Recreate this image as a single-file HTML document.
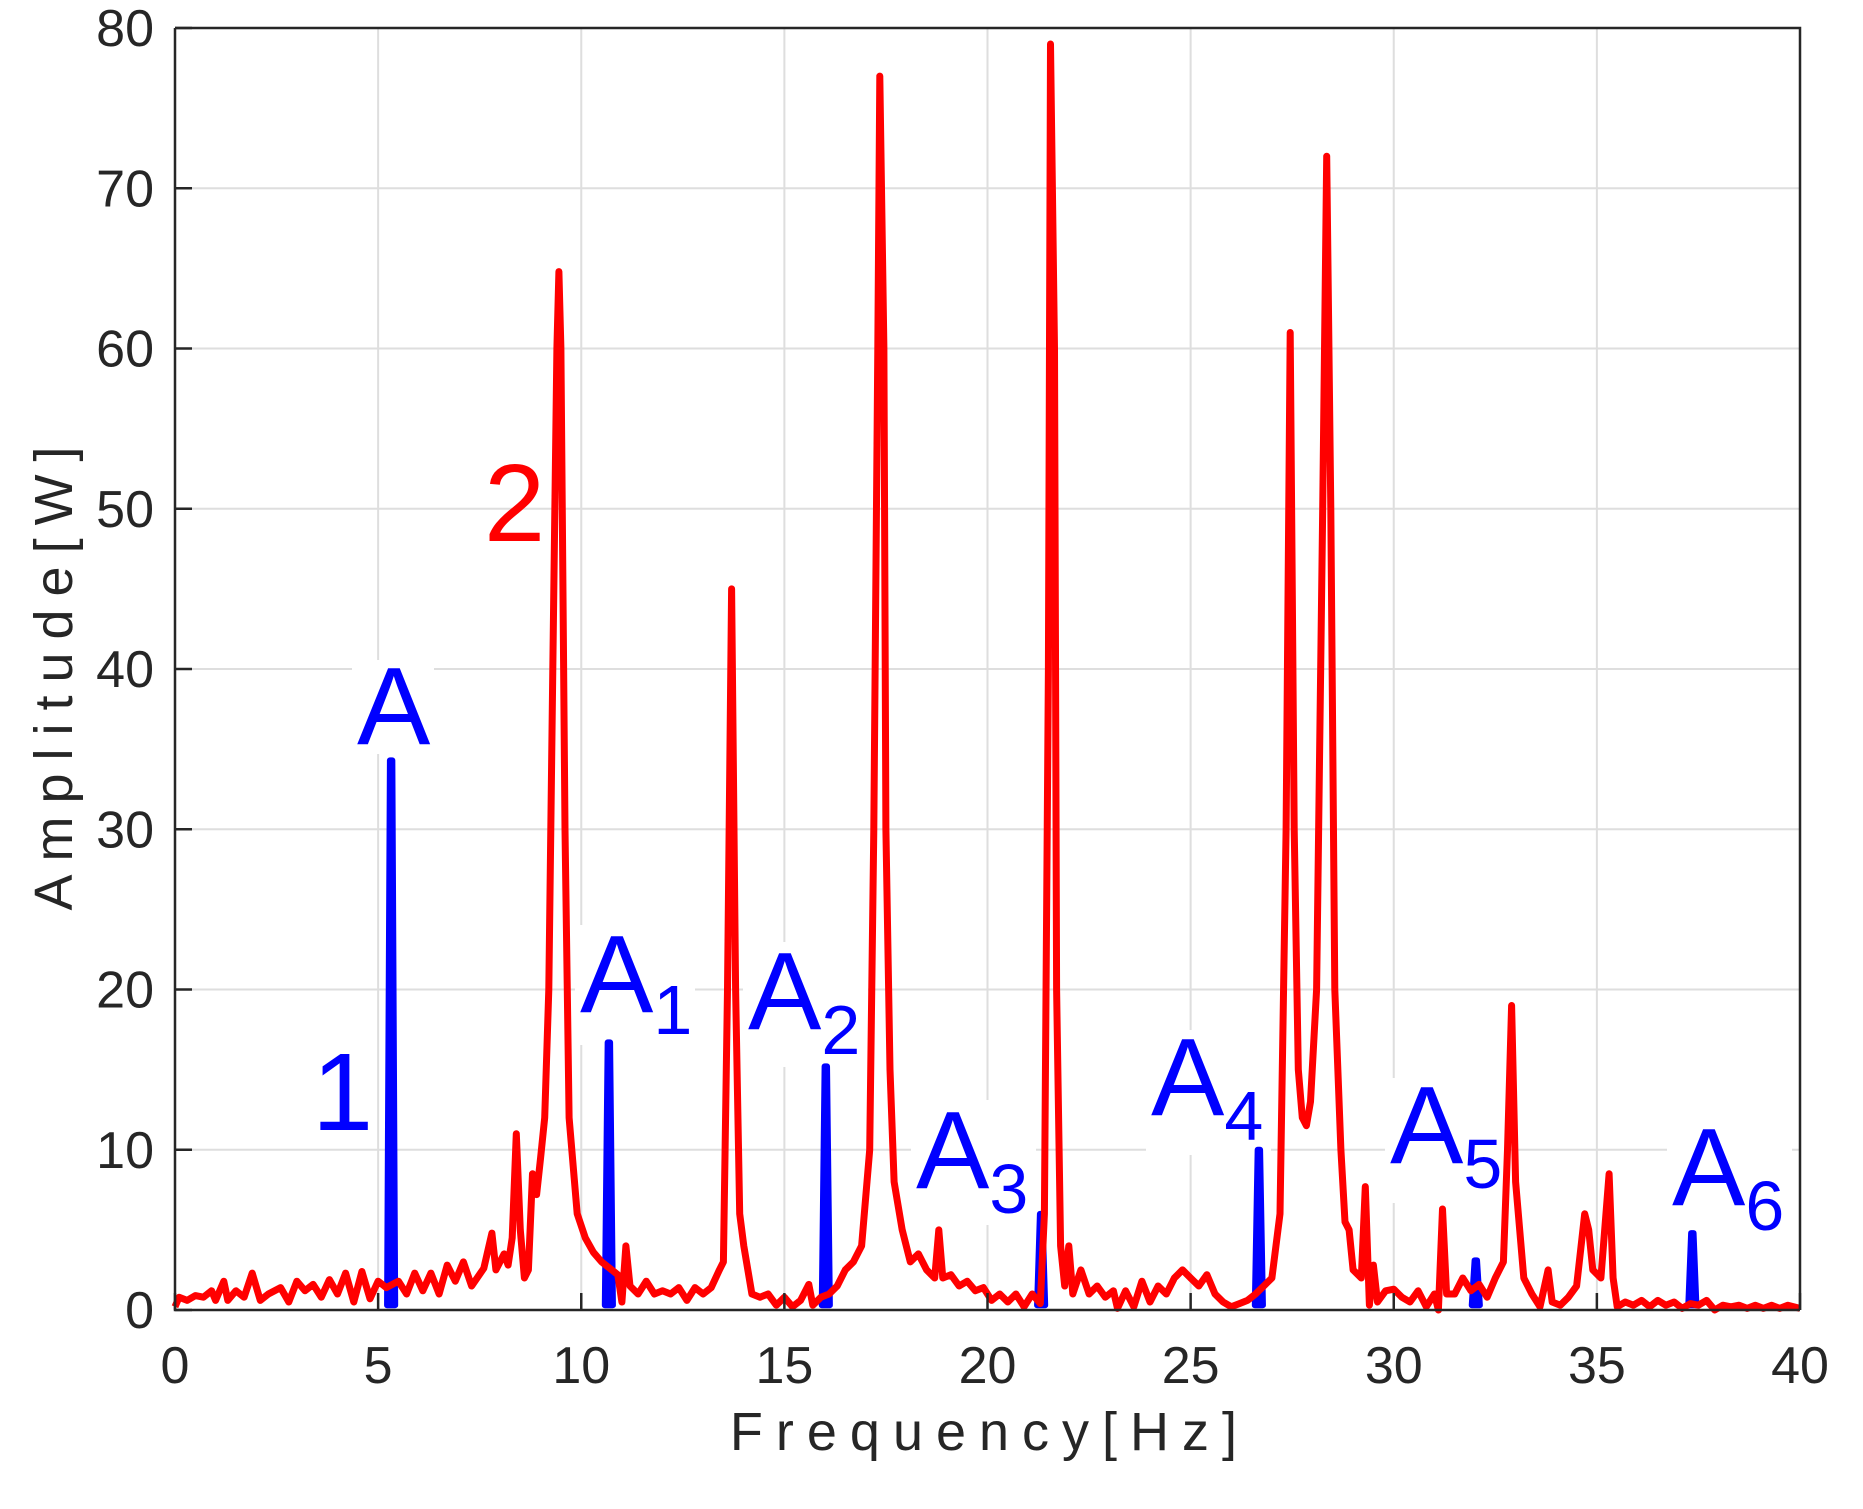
<!DOCTYPE html>
<html><head><meta charset="utf-8"><style>
html,body{margin:0;padding:0;background:#fff;}
svg{display:block;font-family:"Liberation Sans",Arial,sans-serif;}
</style></head><body>
<svg id="chart" width="1863" height="1509" viewBox="0 0 1863 1509" xmlns="http://www.w3.org/2000/svg">
<rect x="0" y="0" width="1863" height="1509" fill="#fff"/>
<g id="grid"></g>
<g id="labelbg" fill="#fff">
<rect x="352" y="660" width="82" height="94"/>
<rect x="575" y="925" width="120" height="120"/>
<rect x="743" y="942" width="125" height="125"/>
<rect x="911" y="1100" width="125" height="125"/>
<rect x="1146" y="1030" width="125" height="125"/>
<rect x="1385" y="1078" width="125" height="125"/>
<rect x="1667" y="1120" width="125" height="125"/>
</g>
<g id="series"></g>
<g id="axes"></g>
<g font-family="Liberation Sans, Arial, sans-serif">
<text x="990" y="1450" text-anchor="middle" font-size="54" fill="#262626" letter-spacing="13">Frequency[Hz]</text>
<text transform="translate(72,672) rotate(-90)" text-anchor="middle" font-size="54" fill="#262626" letter-spacing="13">Amplitude[W]</text>
<text x="357" y="744" font-size="110" fill="#0000ff">A</text>
<text x="312" y="1130" font-size="110" fill="#0000ff">1</text>
<text x="484" y="541" font-size="110" fill="#ff0000">2</text>
<text x="580" y="1012" font-size="110" fill="#0000ff">A<tspan font-size="70" dy="22">1</tspan></text>
<text x="748" y="1029" font-size="110" fill="#0000ff">A<tspan font-size="70" dy="25">2</tspan></text>
<text x="916" y="1188" font-size="110" fill="#0000ff">A<tspan font-size="70" dy="25">3</tspan></text>
<text x="1151" y="1115" font-size="110" fill="#0000ff">A<tspan font-size="70" dy="25">4</tspan></text>
<text x="1390" y="1163" font-size="110" fill="#0000ff">A<tspan font-size="70" dy="25">5</tspan></text>
<text x="1672" y="1205" font-size="110" fill="#0000ff">A<tspan font-size="70" dy="25">6</tspan></text>
</g>
</svg>
<script>
const xTicks = [0,5,10,15,20,25,30,35,40];
const yTicks = [0,10,20,30,40,50,60,70,80];
const redFreq = [0,0.1,0.3,0.5,0.7,0.9,1.0,1.2,1.3,1.5,1.7,1.9,2.1,2.3,2.6,2.8,3.0,3.2,3.4,3.6,3.8,4.0,4.2,4.4,4.6,4.8,5.0,5.2,5.5,5.7,5.9,6.1,6.3,6.5,6.7,6.9,7.1,7.3,7.6,7.8,7.9,8.1,8.2,8.3,8.4,8.5,8.6,8.7,8.8,8.9,9.0,9.1,9.2,9.3,9.4,9.45,9.5,9.6,9.7,9.9,10.1,10.3,10.5,10.7,10.9,11.0,11.1,11.2,11.4,11.6,11.8,12.0,12.2,12.4,12.6,12.8,13.0,13.2,13.4,13.5,13.6,13.7,13.8,13.9,14.0,14.2,14.4,14.6,14.8,15.0,15.2,15.4,15.6,15.7,15.9,16.1,16.3,16.5,16.7,16.9,17.1,17.2,17.3,17.35,17.45,17.5,17.6,17.7,17.9,18.1,18.3,18.5,18.7,18.8,18.9,19.1,19.3,19.5,19.7,19.9,20.1,20.3,20.5,20.7,20.9,21.1,21.3,21.4,21.5,21.55,21.65,21.7,21.8,21.9,22.0,22.1,22.3,22.5,22.7,22.9,23.1,23.2,23.4,23.6,23.8,24.0,24.2,24.4,24.6,24.8,25.0,25.2,25.4,25.6,25.8,26.0,26.2,26.4,26.6,26.8,27.0,27.2,27.35,27.45,27.55,27.65,27.75,27.85,27.95,28.1,28.25,28.35,28.45,28.55,28.7,28.8,28.9,29.0,29.2,29.3,29.4,29.5,29.6,29.8,30.0,30.2,30.4,30.6,30.8,31.0,31.1,31.2,31.3,31.5,31.7,31.9,32.1,32.3,32.5,32.7,32.8,32.9,33.0,33.2,33.4,33.6,33.8,33.9,34.1,34.3,34.5,34.7,34.8,34.9,35.1,35.3,35.4,35.5,35.7,35.9,36.1,36.3,36.5,36.7,36.9,37.1,37.3,37.5,37.7,37.9,38.1,38.3,38.5,38.7,38.9,39.1,39.3,39.5,39.7,40.0];
const redAmp = [0.2,0.8,0.6,0.9,0.8,1.2,0.6,1.8,0.6,1.2,0.8,2.3,0.6,1.0,1.4,0.5,1.8,1.2,1.6,0.8,1.9,1.0,2.3,0.5,2.4,0.7,1.8,1.4,1.8,1.0,2.3,1.2,2.3,1.0,2.8,1.8,3.0,1.5,2.6,4.8,2.5,3.5,2.8,4.5,11.0,5.0,2.0,2.5,8.5,7.2,9.5,12,20,40,60,64.8,60,30,12,6,4.5,3.6,3.0,2.6,2.2,0.5,4.0,1.5,1.0,1.8,1.0,1.2,1.0,1.4,0.6,1.4,1.0,1.4,2.5,3.0,20,45,20,6,4,1.0,0.8,1.0,0.3,0.8,0.2,0.6,1.6,0.3,0.8,1.0,1.5,2.5,3.0,4.0,10,30,60,77,60,30,15,8,5,3,3.5,2.5,2.0,5.0,2.0,2.2,1.5,1.8,1.2,1.4,0.6,1.0,0.5,1.0,0.2,1.0,0.4,6,40,79,60,20,4,1.5,4.0,1.0,2.5,1.0,1.5,0.8,1.2,0.1,1.2,0.2,1.8,0.5,1.5,1.0,2.0,2.5,2.0,1.5,2.2,1.0,0.5,0.2,0.4,0.6,1.0,1.5,2.0,6,30,61,30,15,12,11.5,13,20,50,72,50,20,10,5.5,5,2.5,2.0,7.7,0.3,2.8,0.5,1.2,1.3,0.8,0.5,1.2,0.2,1.0,0.0,6.3,1.0,1.0,2.0,1.2,1.6,0.8,2.0,3.0,10,19,8,2.0,1.0,0.2,2.5,0.5,0.3,0.8,1.5,6.0,5.0,2.5,2.0,8.5,2.0,0.2,0.5,0.3,0.6,0.2,0.6,0.3,0.5,0.1,0.4,0.3,0.6,0.0,0.3,0.2,0.3,0.1,0.3,0.1,0.3,0.1,0.3,0.1];
const blueFreq = [5.32,10.68,16.02,21.32,26.68,32.02,37.35];
const blueAmp = [34.3,16.7,15.2,6.0,10.0,3.1,4.8];

const X0=175, X1=1800, Y0=1310, Y1=28;
const NS='http://www.w3.org/2000/svg';
function sx(f){return X0+(f-0)/(40-0)*(X1-X0);}
function sy(a){return Y0-(a-0)/(80-0)*(Y0-Y1);}
function mk(tag,attrs,parent){const e=document.createElementNS(NS,tag);for(const k in attrs)e.setAttribute(k,attrs[k]);parent.appendChild(e);return e;}
const grid=document.getElementById('grid'), series=document.getElementById('series'), axes=document.getElementById('axes');

xTicks.forEach(t=>{
  const g=mk('line',{x1:sx(t),x2:sx(t),y1:Y1,y2:Y0,stroke:'#dedede','stroke-width':2},grid);
  
  
  const tk=mk('line',{x1:sx(t),x2:sx(t),y1:Y0,y2:Y0-17,stroke:'#262626','stroke-width':2.5},axes);
  
  
  const tl=mk('text',{x:sx(t),y:1383,'text-anchor':'middle','font-size':52,fill:'#262626'},axes);
  tl.textContent=t;
  
  
});
yTicks.forEach(t=>{
  const g=mk('line',{x1:X0,x2:X1,y1:sy(t),y2:sy(t),stroke:'#dedede','stroke-width':2},grid);
  
  
  const tk=mk('line',{x1:X0,x2:X0+17,y1:sy(t),y2:sy(t),stroke:'#262626','stroke-width':2.5},axes);
  
  
  const tl=mk('text',{x:154,y:sy(t)+18,'text-anchor':'end','font-size':52,fill:'#262626'},axes);
  tl.textContent=t;
  
  
});

blueFreq.forEach((f,i)=>{
  const a=blueAmp[i];
  const pts=[[f-0.1,0.3],[f-0.03,a],[f+0.03,a],[f+0.1,0.3]].map(p=>sx(p[0])+','+sy(p[1])).join(' ');
  const p=mk('polygon',{points:pts,fill:'#0000ff',stroke:'#0000ff','stroke-width':6,'stroke-linejoin':'round'},series);
  
  
});
const d=redFreq.map((f,i)=>(i?'L':'M')+sx(f).toFixed(1)+','+sy(redAmp[i]).toFixed(1)).join(' ');
const rl=mk('path',{d:d,fill:'none',stroke:'#ff0000','stroke-width':7,'stroke-linejoin':'round'},series);



const fr=mk('path',{d:`M${X0},${Y1} L${X1},${Y1} L${X1},${Y0} M${X0},${Y1} L${X0},${Y0} L${X1},${Y0}`,fill:'none',stroke:'#262626','stroke-width':2.5},axes);


</script>
</body></html>
